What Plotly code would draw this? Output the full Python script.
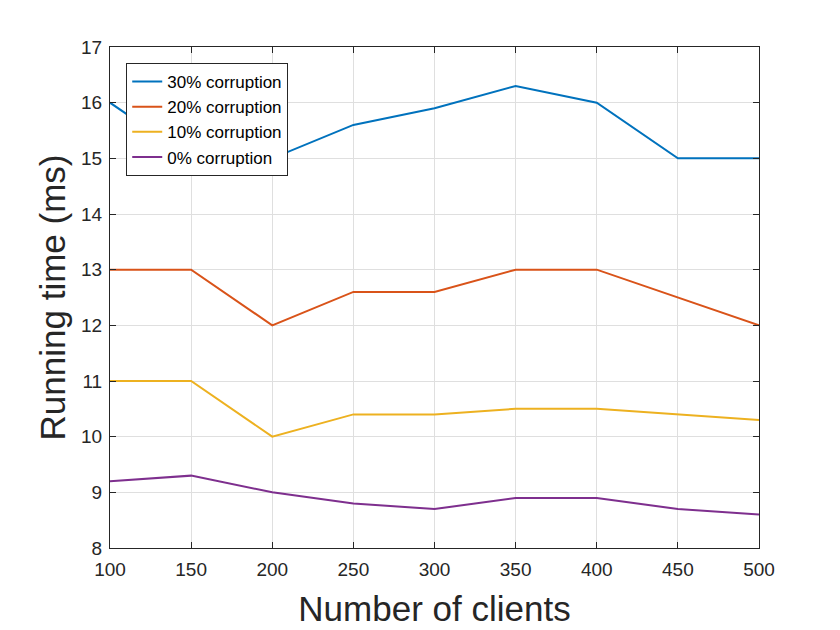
import plotly.graph_objects as go

clients = [100, 150, 200, 250, 300, 350, 400, 450, 500]
corr_30 = [16.0, 15.0, 15.0, 15.6, 15.9, 16.3, 16.0, 15.0, 15.0]
corr_20 = [13.0, 13.0, 12.0, 12.6, 12.6, 13.0, 13.0, 12.5, 12.0]
corr_10 = [11.0, 11.0, 10.0, 10.4, 10.4, 10.5, 10.5, 10.4, 10.3]
corr_0 = [9.2, 9.3, 9.0, 8.8, 8.7, 8.9, 8.9, 8.7, 8.6]

series = [
    ("30% corruption", corr_30, "#0072BD"),
    ("20% corruption", corr_20, "#D95319"),
    ("10% corruption", corr_10, "#EDB120"),
    ("0% corruption", corr_0, "#7E2F8E"),
]

fig = go.Figure()
for name, vals, col in series:
    fig.add_trace(go.Scatter(x=clients, y=vals, name=name, mode="lines",
                             line=dict(color=col, width=2)))

axis_style = dict(
    showline=True, linecolor="#262626", linewidth=1, mirror="ticks",
    ticks="inside", ticklen=6, tickcolor="#262626",
    showgrid=True, gridcolor="#dfdfdf", gridwidth=1,
    zeroline=False, tickfont=dict(size=19, color="#262626"),
)

fig.update_layout(
    width=840, height=630,
    paper_bgcolor="white", plot_bgcolor="white",
    font=dict(family="Liberation Sans, Arial, sans-serif", color="#262626"),
    margin=dict(l=102, r=89, t=39, b=90),
    xaxis=dict(range=[100, 500], tickvals=list(range(100, 501, 50)),
               ticklabelstandoff=4,
               title=dict(text="Number of clients", font=dict(size=35), standoff=17),
               **axis_style),
    yaxis=dict(range=[8, 17], tickvals=list(range(8, 18)),
               ticklabelstandoff=3,
               title=dict(text="Running time (ms)", font=dict(size=35), standoff=4),
               **axis_style),
    legend=dict(x=0.025, y=0.968, xanchor="left", yanchor="top",
                bgcolor="white", bordercolor="#262626", borderwidth=1,
                font=dict(size=17, color="#000000"), tracegroupgap=0),
    showlegend=True,
)

fig.write_html("out.html")
